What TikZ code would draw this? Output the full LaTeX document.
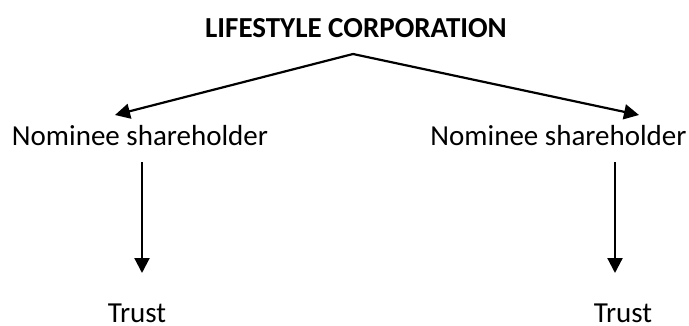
\documentclass[tikz,border=0pt]{standalone}
\usepackage{fontspec}
\setmainfont{Carlito}
\usetikzlibrary{arrows.meta}
\begin{document}
\begin{tikzpicture}[x=1pt,y=1pt,
  lbl/.style={inner sep=0pt,anchor=base,font=\fontsize{29}{34}\selectfont},
  ttl/.style={lbl,font=\fontsize{29}{34}\selectfont\bfseries},
  conn/.style={line width=2.2pt,-{Triangle[length=15pt,width=15pt]}}]
\useasboundingbox (0,0) rectangle (689,325);
\node[ttl] (title) at (356,288) {LIFESTYLE CORPORATION};
\node[lbl] (nomL) at (140,180) {Nominee shareholder};
\node[lbl] (nomR) at (558.5,180) {Nominee shareholder};
\node[lbl] (trustL) at (137,3) {Trust};
\node[lbl] (trustR) at (623,3) {Trust};
\coordinate (apex) at (353,271);
\coordinate (tipL) at (115,210);
\coordinate (tipR) at (639,210);
\coordinate (sL) at (142,163);
\coordinate (eL) at (142,52);
\coordinate (sR) at (615,163);
\coordinate (eR) at (615,52);
\draw[conn] (apex) -- (tipL);
\draw[conn] (apex) -- (tipR);
\draw[conn] (sL) -- (eL);
\draw[conn] (sR) -- (eR);
\end{tikzpicture}
\end{document}
